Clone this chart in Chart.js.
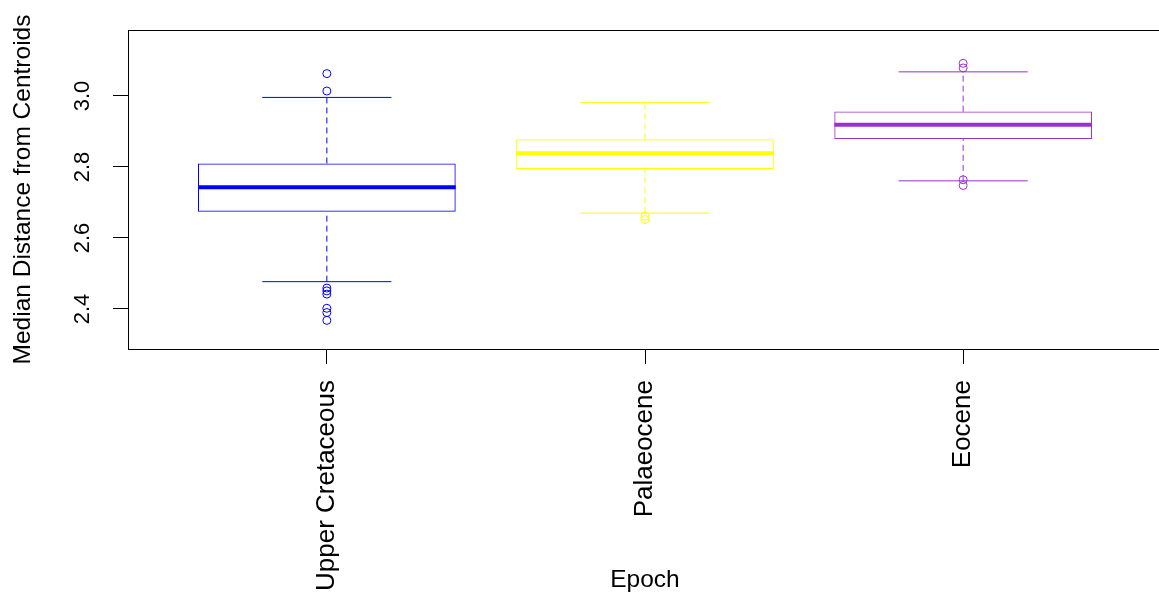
<!DOCTYPE html>
<html>
<head>
<meta charset="utf-8">
<script src="https://cdn.jsdelivr.net/npm/chart.js@4"></script>
<style>
    html, body { margin: 0; padding: 0; background: #fff; overflow: hidden; }
    canvas { display: block; }
</style>
</head>
<body>
<canvas id="graphique-epoques" width="1167" height="598"></canvas>
<script>
const categories = ["Upper Cretaceous", "Palaeocene", "Eocene"];
const couleurs = ["#0000ff", "#ffff00", "#9932cc"];
const q1 = [2.674, 2.794, 2.879];
const mediane = [2.743, 2.839, 2.919];
const q3 = [2.810, 2.878, 2.956];
const moustacheBas = [2.477, 2.670, 2.761];
const moustacheHaut = [2.996, 2.982, 3.068];
const aberrantsCretace = [3.063, 3.014, 2.459, 2.451, 2.442, 2.402, 2.390, 2.368];
const aberrantsPaleocene = [2.661, 2.652];
const aberrantsEocene = [3.092, 3.079, 2.764, 2.748];
const aberrants = [aberrantsCretace, aberrantsPaleocene, aberrantsEocene];
const yTicks = [2.4, 2.6, 2.8, 3.0];

const demiBoite = 0.405, demiCapuchon = 0.203;
const police = "'Liberation Sans', Arial, sans-serif";

let datasets = [];

// boites (barres flottantes)
datasets.push({
    type: "bar",
    data: categories.map((c, i) => ({ x: i + 1, y: [q1[i], q3[i]] })),
    backgroundColor: "rgba(0,0,0,0)",
    borderColor: couleurs,
    borderWidth: 1,
    borderSkipped: false,
    categoryPercentage: 1,
    barPercentage: 2 * demiBoite,
    order: 3
});

for (let i = 0; i < categories.length; i++) {
    const x = i + 1;
    // medianes
    datasets.push({
        type: "line",
        data: [{ x: x - demiBoite, y: mediane[i] }, { x: x + demiBoite, y: mediane[i] }],
        borderColor: couleurs[i],
        borderWidth: 4,
        pointRadius: 0,
        order: 1
    });
    // moustaches en tirets
    datasets.push({
        type: "line",
        data: [
            { x: x, y: moustacheBas[i] }, { x: x, y: q1[i] }, { x: x, y: null },
            { x: x, y: q3[i] }, { x: x, y: moustacheHaut[i] }
        ],
        borderColor: couleurs[i],
        borderWidth: 1,
        borderDash: [6, 4],
        pointRadius: 0,
        order: 2
    });
    // capuchons
    datasets.push({
        type: "line",
        data: [
            { x: x - demiCapuchon, y: moustacheBas[i] }, { x: x + demiCapuchon, y: moustacheBas[i] }, { x: x, y: null },
            { x: x - demiCapuchon, y: moustacheHaut[i] }, { x: x + demiCapuchon, y: moustacheHaut[i] }
        ],
        borderColor: couleurs[i],
        borderWidth: 1,
        pointRadius: 0,
        order: 2
    });
    // valeurs aberrantes
    datasets.push({
        type: "scatter",
        data: aberrants[i].map(v => ({ x: x, y: v })),
        borderColor: couleurs[i],
        backgroundColor: "rgba(0,0,0,0)",
        borderWidth: 1,
        pointRadius: 4,
        order: 1
    });
}

const cadre = {
    id: "cadre",
    afterDraw(chart) {
        const { ctx, chartArea } = chart;
        ctx.save();
        ctx.strokeStyle = "#000";
        ctx.lineWidth = 1;
        ctx.strokeRect(Math.round(chartArea.left) + 0.5, Math.round(chartArea.top) + 0.5,
            Math.round(chartArea.right - chartArea.left), Math.round(chartArea.bottom - chartArea.top));
        ctx.restore();
    }
};

const config = {
    type: "bar",
    data: { datasets: datasets },
    options: {
        responsive: false,
        animation: false,
        devicePixelRatio: 1,
        layout: { padding: { top: 30, right: 0, left: 0, bottom: 0 } },
        plugins: { legend: { display: false }, tooltip: { enabled: false } },
        scales: {
            x: {
                type: "linear",
                min: 0.375,
                max: 3.625,
                offset: false,
                afterBuildTicks: (scale) => { scale.ticks = categories.map((c, i) => ({ value: i + 1 })); },
                afterFit: (scale) => { scale.height = 249; },
                grid: { offset: false, drawOnChartArea: false, tickLength: 15, color: "#000" },
                border: { display: false },
                ticks: {
                    autoSkip: false,
                    minRotation: 90,
                    maxRotation: 90,
                    padding: 16,
                    color: "#000",
                    font: { family: police, size: 26 },
                    callback: (v) => categories[Math.round(v) - 1]
                },
                title: {
                    display: true,
                    text: "Epoch",
                    color: "#000",
                    font: { family: police, size: 24.5, lineHeight: 1.2 },
                    padding: { top: 0, bottom: 3 }
                }
            },
            y: {
                type: "linear",
                min: 2.2873,
                max: 3.1859,
                afterBuildTicks: (scale) => { scale.ticks = yTicks.map(v => ({ value: v })); },
                afterFit: (scale) => { scale.width = 128; },
                grid: { drawOnChartArea: false, tickLength: 15, color: "#000" },
                border: { display: false },
                ticks: {
                    autoSkip: false,
                    minRotation: 90,
                    maxRotation: 90,
                    crossAlign: "center",
                    padding: 15,
                    color: "#000",
                    font: { family: police, size: 22 },
                    callback: (v) => v.toFixed(1)
                },
                title: {
                    display: true,
                    text: "Median Distance from Centroids",
                    color: "#000",
                    font: { family: police, size: 24.5, lineHeight: 1.2 },
                    padding: { top: 9, bottom: 0 }
                }
            }
        }
    },
    plugins: [cadre]
};

const graphiqueEpoques = new Chart(document.querySelector("#graphique-epoques"), config);
</script>
</body>
</html>
